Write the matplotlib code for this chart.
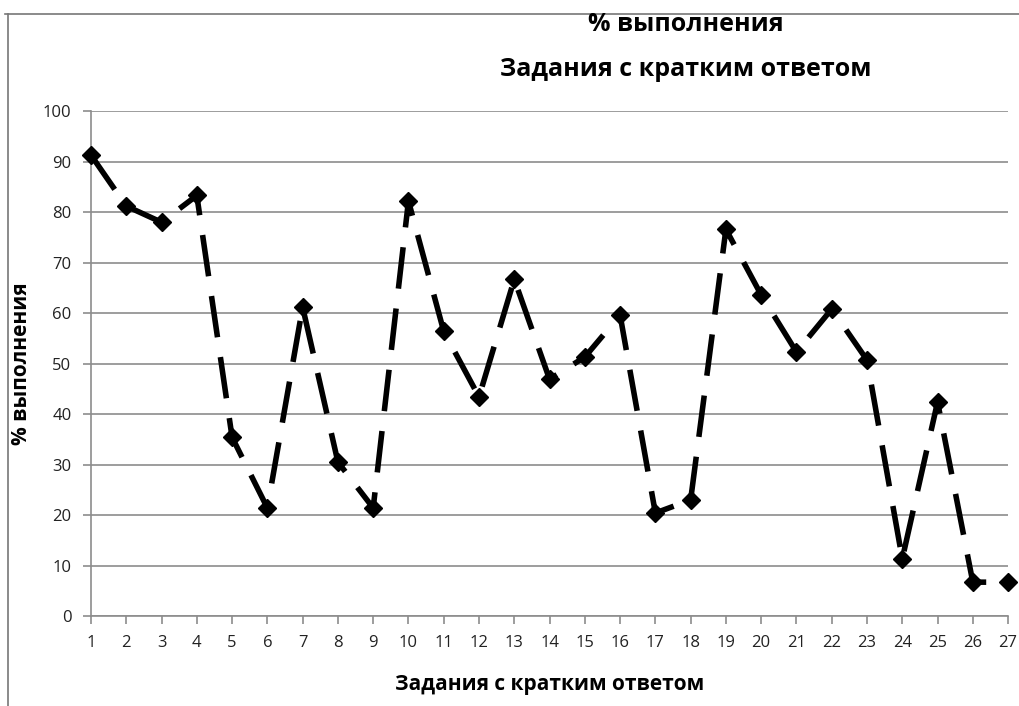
import matplotlib
matplotlib.use("Agg")
import matplotlib.pyplot as plt
from matplotlib.lines import Line2D

tasks = list(range(1, 28))
values = [91.3, 81.2, 78.0, 83.3, 35.4, 21.4, 61.2, 30.5, 21.4, 82.2,
          56.4, 43.4, 66.7, 46.9, 51.3, 59.6, 20.4, 23.0, 76.6, 63.6,
          52.3, 60.8, 50.7, 11.3, 42.4, 6.7, 6.7]
yticks = list(range(0, 101, 10))

plt.rcParams['font.family'] = ['Open Sans', 'DejaVu Sans']

fig = plt.figure(figsize=(10.19, 7.06), dpi=100)
ax = fig.add_axes([0.0893, 0.1275, 0.9, 0.715])

ax.plot(tasks, values, color='black', linewidth=4.0, dashes=(7.5, 3.6),
        marker='D', markersize=9, markerfacecolor='black', markeredgecolor='black',
        clip_on=False, zorder=3)

ax.set_xlim(1, 27)
ax.set_ylim(0, 100)
ax.set_xticks(tasks)
ax.set_xticklabels([str(t) for t in tasks])
ax.set_yticks(yticks)
ax.yaxis.grid(True, color='#8c8c8c', linewidth=1.2)
ax.set_axisbelow(True)
for s in ['top', 'right']:
    ax.spines[s].set_visible(False)
for s in ['left', 'bottom']:
    ax.spines[s].set_color('#8c8c8c')
    ax.spines[s].set_linewidth(1.2)
ax.tick_params(axis='both', colors='#8c8c8c', labelcolor='#222222', labelsize=12,
               length=6, width=1.2, direction='out')
ax.tick_params(axis='x', pad=8)
ax.tick_params(axis='y', pad=8)

ax.set_xlabel('Задания с кратким ответом', fontsize=15, fontweight='bold')
ax.xaxis.set_label_coords(0.5, -0.114)
ax.set_ylabel('% выполнения', fontsize=15, fontweight='bold')
ax.yaxis.set_label_coords(-0.064, 0.5)

fig.text(0.673, 0.966, '% выполнения', ha='center', va='center', fontsize=18, fontweight='bold')
fig.text(0.673, 0.902, 'Задания с кратким ответом', ha='center', va='center', fontsize=18, fontweight='bold')

fig.add_artist(Line2D([5/1019, 1], [1 - 14/706, 1 - 14/706], color='#777777', linewidth=1.2,
                      transform=fig.transFigure))
fig.add_artist(Line2D([8/1019, 8/1019], [0, 1 - 14/706], color='#777777', linewidth=1.2,
                      transform=fig.transFigure))

fig.savefig('out.png', dpi=100)
